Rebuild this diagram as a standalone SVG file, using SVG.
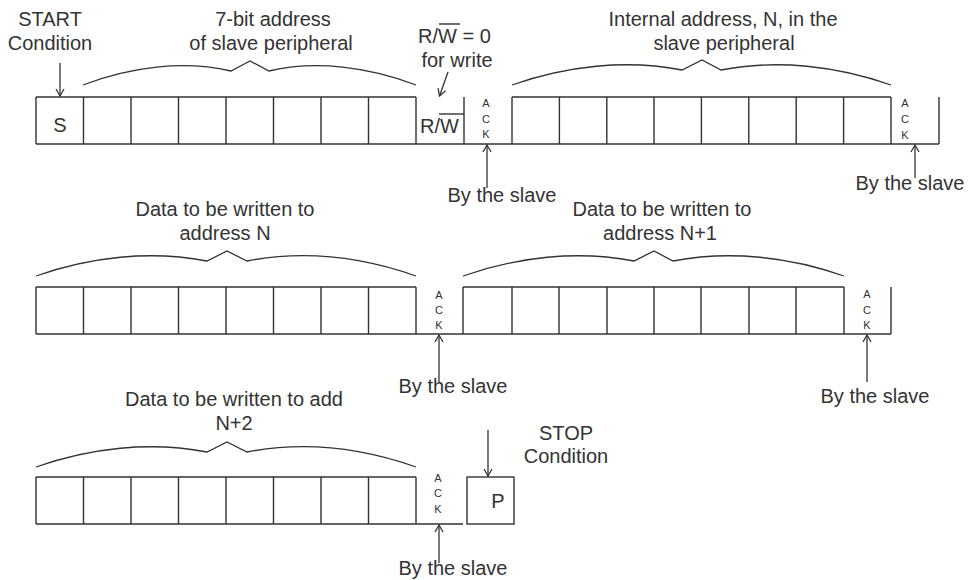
<svg xmlns="http://www.w3.org/2000/svg" width="971" height="580" viewBox="0 0 971 580">
<defs>
<style>
.ln{fill:none;stroke:#333;stroke-width:1.4}
.br{fill:none;stroke:#333;stroke-width:1.3}
.t{font-family:"Liberation Sans",Arial,sans-serif;font-size:20px;fill:#333;text-anchor:middle}
.ts{text-anchor:start}
.ack{font-family:"Liberation Sans",Arial,sans-serif;font-size:11px;fill:#333;text-anchor:middle}
.ar{fill:none;stroke:#333;stroke-width:1.3;marker-end:url(#ah)}
</style>
<marker id="ah" viewBox="-8 -5 10 10" refX="0" refY="0" markerWidth="10" markerHeight="10" markerUnits="userSpaceOnUse" orient="auto">
<path d="M-7,-4 L0,0 L-7,4" fill="none" stroke="#333" stroke-width="1.3"/>
</marker>
</defs>
<rect width="971" height="580" fill="#fff"/>

<g id="row1-frame">
<path class="ln" d="M36,97 H416 M512,97 H891 M36,144 H939"/>
<path class="ln" d="M36,97 V144 M83.5,97 V144 M131,97 V144 M178.5,97 V144 M226,97 V144 M273.5,97 V144 M321,97 V144 M368.5,97 V144 M416,97 V144 M464,97 V144 M512,97 V144 M559.4,97 V144 M606.8,97 V144 M654,97 V144 M701.4,97 V144 M748.8,97 V144 M796.2,97 V144 M843.6,97 V144 M891,97 V144 M939,97 V144"/>
<text class="t" x="60" y="132">S</text>
<text class="t ts" x="420" y="133">R/W</text>
<path class="ln" d="M439,114 H464"/>
<text class="ack" x="486" y="107">A</text><text class="ack" x="486" y="123">C</text><text class="ack" x="486" y="138">K</text>
<text class="ack" x="905" y="107">A</text><text class="ack" x="905" y="123">C</text><text class="ack" x="905" y="139">K</text>
</g>

<g id="row2-frame">
<path class="ln" d="M36,287 H416 M463,287 H844 M36,334 H891"/>
<path class="ln" d="M36,287 V334 M83.5,287 V334 M131,287 V334 M178.5,287 V334 M226,287 V334 M273.5,287 V334 M321,287 V334 M368.5,287 V334 M416,287 V334 M463,287 V334 M512,287 V334 M559,287 V334 M607,287 V334 M654,287 V334 M701,287 V334 M749,287 V334 M796,287 V334 M844,287 V334 M891,287 V334"/>
<text class="ack" x="439" y="299">A</text><text class="ack" x="439" y="314">C</text><text class="ack" x="439" y="329">K</text>
<text class="ack" x="867" y="298">A</text><text class="ack" x="867" y="314">C</text><text class="ack" x="867" y="329">K</text>
</g>

<g id="row3-frame">
<path class="ln" d="M36,477 H416 M36,524 H463"/>
<path class="ln" d="M36,477 V524 M83.5,477 V524 M131,477 V524 M178.5,477 V524 M226,477 V524 M273.5,477 V524 M321,477 V524 M368.5,477 V524 M416,477 V524"/>
<text class="ack" x="438" y="482">A</text><text class="ack" x="438" y="497">C</text><text class="ack" x="438" y="513">K</text>
</g>

<g id="stop-box">
<rect class="ln" x="467" y="477" width="47" height="47"/>
<text class="t" x="498" y="508">P</text>
</g>

<g id="braces">
<path class="br" d="M83,85 C130,67 183,60 231,71 L250,61 L269,71 C316,60 369,67 416,85"/>
<path class="br" d="M512,85 C566,66 626,59 682,70 L702,60 L721,70 C777,59 837,66 891,85"/>
<path class="br" d="M36,276 C90,257 150,250 207,261 L227,251 L247,261 C304,250 362,257 416,276"/>
<path class="br" d="M463,276 C517,257 577,250 634,261 L654,251 L673,261 C730,250 790,257 844,276"/>
<path class="br" d="M36,467 C90,448 150,441 207,452 L227,442 L247,452 C304,441 362,448 416,467"/>
</g>

<g id="labels">
<text class="t" x="50" y="26">START</text>
<text class="t" x="50" y="50">Condition</text>
<text class="t" x="273" y="26">7-bit address</text>
<text class="t" x="271" y="50">of slave peripheral</text>
<text class="t ts" x="418" y="43">R/W = 0</text>
<path class="ln" d="M439,24 H460"/>
<text class="t" x="457" y="67">for write</text>
<text class="t" x="723" y="26">Internal address, N, in the</text>
<text class="t" x="724" y="50">slave peripheral</text>
<text class="t" x="502" y="202">By the slave</text>
<text class="t" x="910" y="190">By the slave</text>
<text class="t" x="225" y="216">Data to be written to</text>
<text class="t" x="225" y="240">address N</text>
<text class="t" x="662" y="216">Data to be written to</text>
<text class="t" x="660" y="240">address N+1</text>
<text class="t" x="453" y="393">By the slave</text>
<text class="t" x="875" y="403">By the slave</text>
<text class="t" x="234" y="406">Data to be written to add</text>
<text class="t" x="234" y="430">N+2</text>
<text class="t" x="566" y="440">STOP</text>
<text class="t" x="566" y="463">Condition</text>
<text class="t" x="453" y="575">By the slave</text>
</g>

<g id="connectors">
<path class="ar" d="M60,63 L60,96"/>
<path class="ar" d="M448,72 L439.5,96"/>
<path class="ar" d="M487,188 L487,145"/>
<path class="ar" d="M915,178 L915,145"/>
<path class="ar" d="M439,382 L439,335"/>
<path class="ar" d="M867,382 L867,335"/>
<path class="ar" d="M439,563 L439,525"/>
<path class="ar" d="M488,430 L488,476"/>
</g>
</svg>
